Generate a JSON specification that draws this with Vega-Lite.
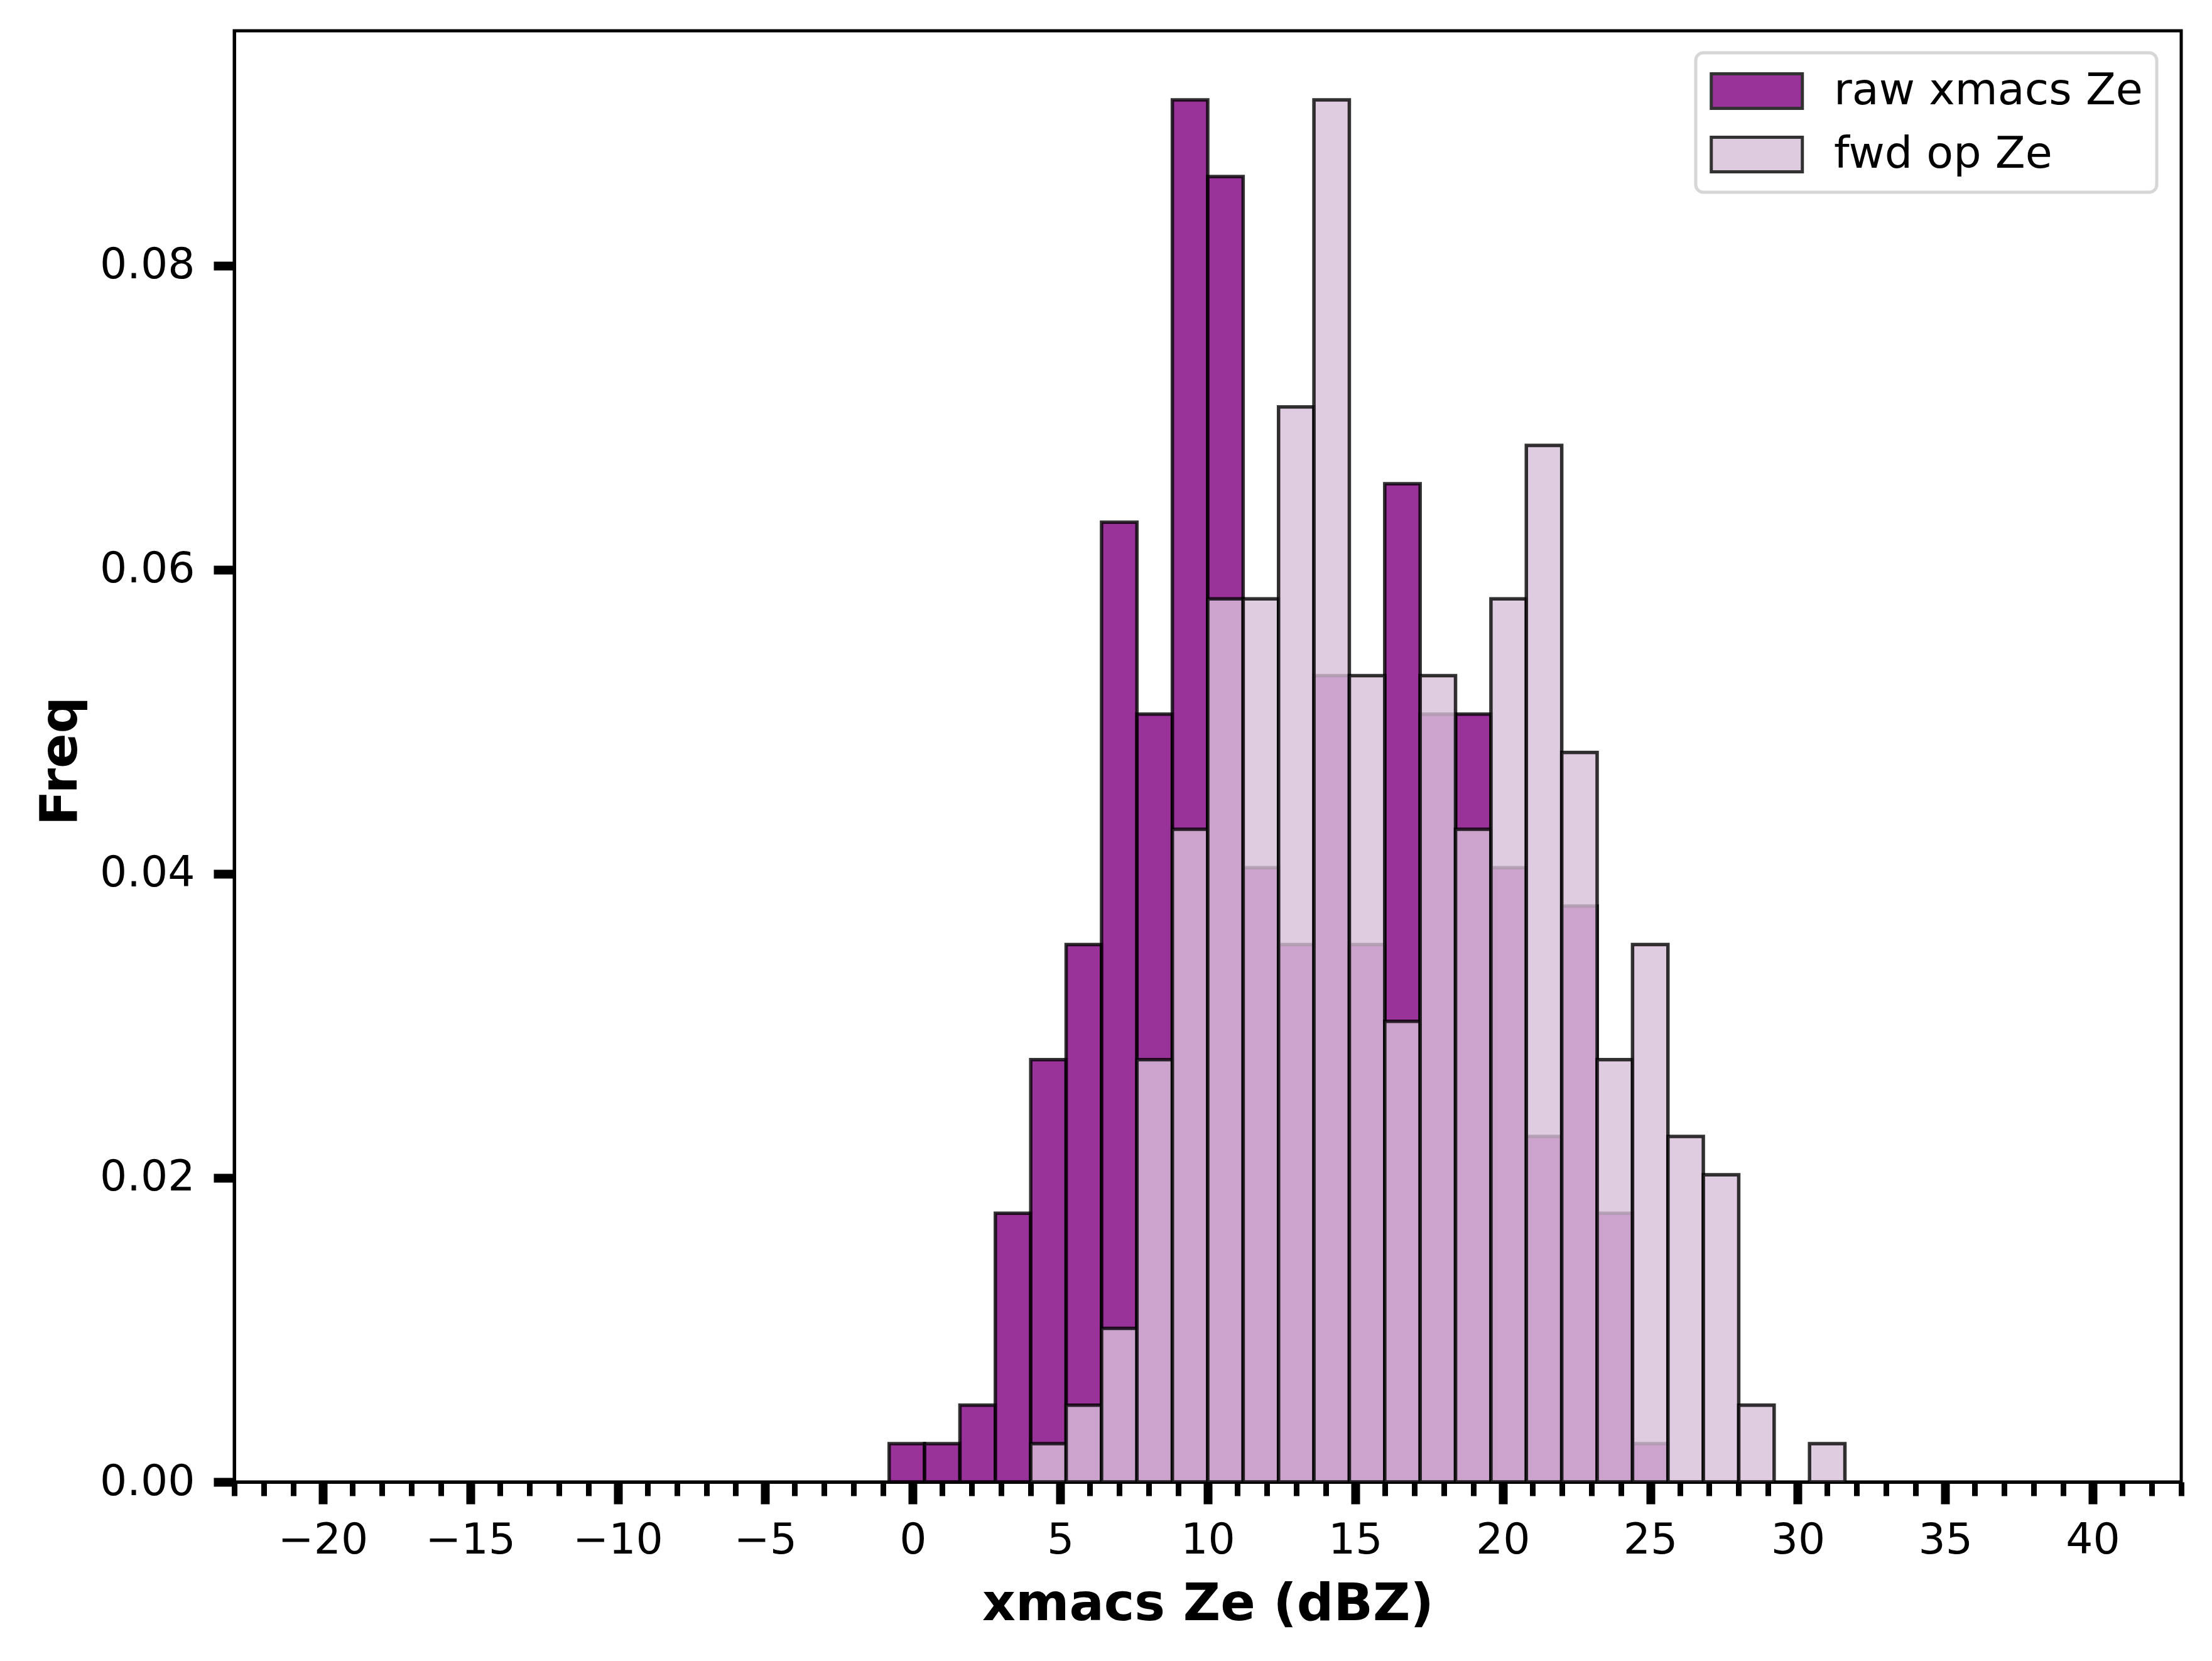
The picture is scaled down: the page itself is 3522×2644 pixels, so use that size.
{
  "$schema": "https://vega.github.io/schema/vega-lite/v6.json",
  "description": "Histogram of raw xmacs Ze vs fwd op Ze",
  "width": 3100,
  "height": 2310,
  "autosize": {"type": "none"},
  "padding": {"left": 373, "top": 49, "right": 49, "bottom": 285},
  "background": "white",
  "config": {
    "font": "DejaVu Sans",
    "view": {"stroke": "black", "strokeWidth": 5},
    "legend": {"strokeWidth": 5},
    "axis": {
      "grid": false,
      "domainColor": "black",
      "domainWidth": 5,
      "tickColor": "black",
      "labelColor": "black",
      "titleColor": "black",
      "labelFont": "DejaVu Sans",
      "titleFont": "DejaVu Sans",
      "labelFlush": false,
      "labelOverlap": false,
      "zindex": 1
    }
  },
  "data": {
    "values": [
      {"series": "raw xmacs Ze", "bin_start": -0.8, "bin_end": 0.4, "freq": 0.002525},
      {"series": "raw xmacs Ze", "bin_start": 0.4, "bin_end": 1.6, "freq": 0.002525},
      {"series": "raw xmacs Ze", "bin_start": 1.6, "bin_end": 2.8, "freq": 0.005051},
      {"series": "raw xmacs Ze", "bin_start": 2.8, "bin_end": 4.0, "freq": 0.017677},
      {"series": "raw xmacs Ze", "bin_start": 4.0, "bin_end": 5.2, "freq": 0.027778},
      {"series": "raw xmacs Ze", "bin_start": 5.2, "bin_end": 6.4, "freq": 0.035354},
      {"series": "raw xmacs Ze", "bin_start": 6.4, "bin_end": 7.6, "freq": 0.063131},
      {"series": "raw xmacs Ze", "bin_start": 7.6, "bin_end": 8.8, "freq": 0.050505},
      {"series": "raw xmacs Ze", "bin_start": 8.8, "bin_end": 10.0, "freq": 0.090909},
      {"series": "raw xmacs Ze", "bin_start": 10.0, "bin_end": 11.2, "freq": 0.085859},
      {"series": "raw xmacs Ze", "bin_start": 11.2, "bin_end": 12.4, "freq": 0.040404},
      {"series": "raw xmacs Ze", "bin_start": 12.4, "bin_end": 13.6, "freq": 0.035354},
      {"series": "raw xmacs Ze", "bin_start": 13.6, "bin_end": 14.8, "freq": 0.05303},
      {"series": "raw xmacs Ze", "bin_start": 14.8, "bin_end": 16.0, "freq": 0.035354},
      {"series": "raw xmacs Ze", "bin_start": 16.0, "bin_end": 17.2, "freq": 0.065657},
      {"series": "raw xmacs Ze", "bin_start": 17.2, "bin_end": 18.4, "freq": 0.050505},
      {"series": "raw xmacs Ze", "bin_start": 18.4, "bin_end": 19.6, "freq": 0.050505},
      {"series": "raw xmacs Ze", "bin_start": 19.6, "bin_end": 20.8, "freq": 0.040404},
      {"series": "raw xmacs Ze", "bin_start": 20.8, "bin_end": 22.0, "freq": 0.022727},
      {"series": "raw xmacs Ze", "bin_start": 22.0, "bin_end": 23.2, "freq": 0.037879},
      {"series": "raw xmacs Ze", "bin_start": 23.2, "bin_end": 24.4, "freq": 0.017677},
      {"series": "raw xmacs Ze", "bin_start": 24.4, "bin_end": 25.6, "freq": 0.002525},
      {"series": "fwd op Ze", "bin_start": 4.0, "bin_end": 5.2, "freq": 0.002525},
      {"series": "fwd op Ze", "bin_start": 5.2, "bin_end": 6.4, "freq": 0.005051},
      {"series": "fwd op Ze", "bin_start": 6.4, "bin_end": 7.6, "freq": 0.010101},
      {"series": "fwd op Ze", "bin_start": 7.6, "bin_end": 8.8, "freq": 0.027778},
      {"series": "fwd op Ze", "bin_start": 8.8, "bin_end": 10.0, "freq": 0.042929},
      {"series": "fwd op Ze", "bin_start": 10.0, "bin_end": 11.2, "freq": 0.058081},
      {"series": "fwd op Ze", "bin_start": 11.2, "bin_end": 12.4, "freq": 0.058081},
      {"series": "fwd op Ze", "bin_start": 12.4, "bin_end": 13.6, "freq": 0.070707},
      {"series": "fwd op Ze", "bin_start": 13.6, "bin_end": 14.8, "freq": 0.090909},
      {"series": "fwd op Ze", "bin_start": 14.8, "bin_end": 16.0, "freq": 0.05303},
      {"series": "fwd op Ze", "bin_start": 16.0, "bin_end": 17.2, "freq": 0.030303},
      {"series": "fwd op Ze", "bin_start": 17.2, "bin_end": 18.4, "freq": 0.05303},
      {"series": "fwd op Ze", "bin_start": 18.4, "bin_end": 19.6, "freq": 0.042929},
      {"series": "fwd op Ze", "bin_start": 19.6, "bin_end": 20.8, "freq": 0.058081},
      {"series": "fwd op Ze", "bin_start": 20.8, "bin_end": 22.0, "freq": 0.068182},
      {"series": "fwd op Ze", "bin_start": 22.0, "bin_end": 23.2, "freq": 0.04798},
      {"series": "fwd op Ze", "bin_start": 23.2, "bin_end": 24.4, "freq": 0.027778},
      {"series": "fwd op Ze", "bin_start": 24.4, "bin_end": 25.6, "freq": 0.035354},
      {"series": "fwd op Ze", "bin_start": 25.6, "bin_end": 26.8, "freq": 0.022727},
      {"series": "fwd op Ze", "bin_start": 26.8, "bin_end": 28.0, "freq": 0.020202},
      {"series": "fwd op Ze", "bin_start": 28.0, "bin_end": 29.2, "freq": 0.005051},
      {"series": "fwd op Ze", "bin_start": 30.4, "bin_end": 31.6, "freq": 0.002525}
    ]
  },
  "encoding": {
    "x2": {"field": "bin_end"},
    "y": {
      "field": "freq",
      "type": "quantitative",
      "scale": {"domain": [0, 0.09545], "nice": false, "zero": true},
      "axis": {
        "title": "Freq",
        "values": [0, 0.02, 0.04, 0.06, 0.08],
        "format": ".2f",
        "tickSize": 33,
        "tickWidth": 14,
        "labelFontSize": 68,
        "labelPadding": 30,
        "titleFontSize": 82,
        "titleFontWeight": "bold",
        "titleBaseline": "alphabetic",
        "titleAngle": -90,
        "titleAlign": "center",
        "titleX": -252,
        "titleY": 1162
      }
    },
    "y2": {"datum": 0},
    "color": {
      "field": "series",
      "type": "nominal",
      "scale": {
        "domain": ["raw xmacs Ze", "fwd op Ze"],
        "range": ["#800080", "#d8bfd8"]
      },
      "legend": {
        "title": null,
        "orient": "none",
        "legendX": 2327,
        "legendY": 35,
        "padding": 22,
        "fillColor": "white",
        "strokeColor": "#d6d6d6",
        "cornerRadius": 12,
        "symbolType": "M-1,-0.76H3V0.76H-1Z",
        "symbolSize": 5256,
        "symbolStrokeColor": "black",
        "symbolStrokeWidth": 5,
        "symbolOpacity": 0.8,
        "labelFontSize": 70,
        "labelFont": "DejaVu Sans",
        "labelColor": "black",
        "labelLimit": 1000,
        "labelOffset": 120,
        "rowPadding": 24
      }
    }
  },
  "layer": [
    {
      "transform": [{"filter": "datum.series === 'raw xmacs Ze'"}],
      "mark": {
        "type": "bar",
        "fillOpacity": 0.8,
        "stroke": "black",
        "strokeOpacity": 0.8,
        "strokeWidth": 5.5
      },
      "encoding": {
        "x": {
          "field": "bin_start",
          "type": "quantitative",
          "scale": {"domain": [-23, 43], "nice": false, "zero": false},
          "axis": {
            "orient": "bottom",
            "title": "xmacs Ze (dBZ)",
            "values": [-20, -15, -10, -5, 0, 5, 10, 15, 20, 25, 30, 35, 40],
            "format": "d",
            "tickSize": 35,
            "tickWidth": 14,
            "labelFontSize": 68,
            "labelPadding": 24,
            "labelBaseline": "top",
            "titleFontSize": 82,
            "titleFontWeight": "bold",
            "titleBaseline": "alphabetic",
            "titleY": 219
          }
        }
      }
    },
    {
      "transform": [{"filter": "datum.series === 'fwd op Ze'"}],
      "mark": {
        "type": "bar",
        "fillOpacity": 0.8,
        "stroke": "black",
        "strokeOpacity": 0.8,
        "strokeWidth": 5.5
      },
      "encoding": {
        "x": {
          "field": "bin_start",
          "type": "quantitative",
          "scale": {"domain": [-23, 43], "nice": false, "zero": false},
          "axis": {
            "orient": "bottom",
            "title": null,
            "labels": false,
            "domain": false,
            "values": [-23, -22, -21, -19, -18, -17, -16, -14, -13, -12, -11, -9, -8, -7, -6, -4, -3, -2, -1, 1, 2, 3, 4, 6, 7, 8, 9, 11, 12, 13, 14, 16, 17, 18, 19, 21, 22, 23, 24, 26, 27, 28, 29, 31, 32, 33, 34, 36, 37, 38, 39, 41, 42, 43],
            "tickSize": 22,
            "tickWidth": 9
          }
        }
      }
    }
  ],
  "resolve": {"axis": {"x": "independent"}}
}
